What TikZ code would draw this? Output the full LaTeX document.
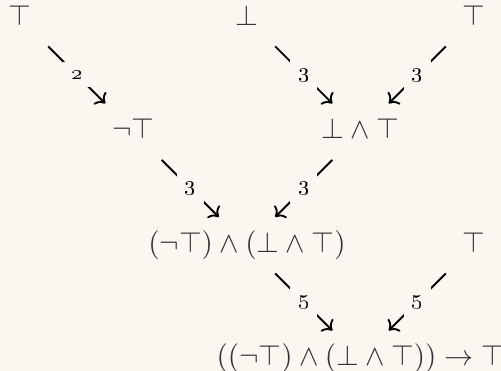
\documentclass[tikz,border=0pt,11pt]{standalone}
\usepackage{xcolor}
\usepackage{tikz}
\usetikzlibrary{arrows.meta, positioning}
\definecolor{proofbg}{HTML}{FAF7F0}
\definecolor{prooftext}{HTML}{333333}

\begin{document}
\begin{tikzpicture}[node distance=1.5cm and 1.5cm, on grid,
  form/.style={inner sep=0pt, text=prooftext, text height=8pt, text depth=2.7pt},
  cost/.style={fill=proofbg, inner sep=3pt, font=\scriptsize},
  arrow/.style={-{To}, line width=0.7pt, shorten <=15pt, shorten >=15pt}]
  \useasboundingbox[fill=proofbg] (-0.264,0.24) rectangle ++(6.62,-4.90);
  \node[form] (t1) {$\top$};
  \node[form, right=3cm of t1] (f1) {$\bot$};
  \node[form, right=3cm of f1] (t2) {$\top$};
  \node[form, below right=of t1] (n1) {$\neg\top$};
  \node[form, below right=of f1] (a1) {$\bot \wedge \top$};
  \node[form, below right=of n1] (c1) {$(\neg\top) \wedge (\bot \wedge \top)$};
  \node[form, right=3cm of c1] (t3) {$\top$};
  \node[form, below right=of c1] (r1) {$((\neg\top) \wedge (\bot \wedge \top)) \rightarrow \top$};
  \draw[arrow] (t1.center) -- node[cost] {\oldstylenums{2}} (n1.center);
  \draw[arrow] (f1.center) -- node[cost] {\oldstylenums{3}} (a1.center);
  \draw[arrow] (t2.center) -- node[cost] {\oldstylenums{3}} (a1.center);
  \draw[arrow] (n1.center) -- node[cost] {\oldstylenums{3}} (c1.center);
  \draw[arrow] (a1.center) -- node[cost] {\oldstylenums{3}} (c1.center);
  \draw[arrow] (c1.center) -- node[cost] {\oldstylenums{5}} (r1.center);
  \draw[arrow] (t3.center) -- node[cost] {\oldstylenums{5}} (r1.center);
\end{tikzpicture}
\end{document}
